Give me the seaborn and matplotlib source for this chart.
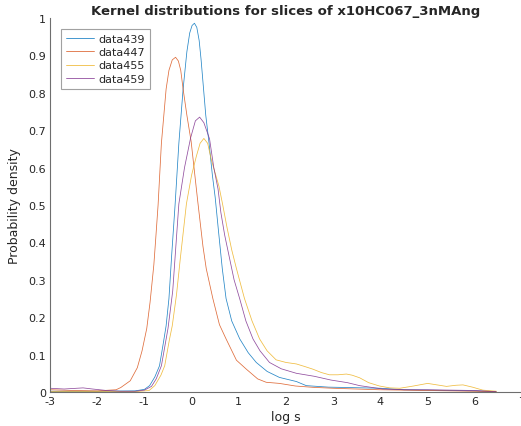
import numpy as np
import pandas as pd
import matplotlib
matplotlib.use("Agg")
import matplotlib.pyplot as plt
import seaborn as sns

# Kernel density estimates of log s for each slice
series_names = ["data439", "data447", "data455", "data459"]
series_colors = ["#0072BD", "#D95319", "#EDB120", "#7E2F8E"]

x_439 = [-3.0, -2.0, -1.2, -1.0, -0.89, -0.78, -0.68, -0.6, -0.54, -0.48, -0.42, -0.35,
         -0.27, -0.18, -0.1, -0.04, 0.01, 0.06, 0.11, 0.16, 0.2, 0.24, 0.3, 0.37, 0.44,
         0.5, 0.57, 0.65, 0.73, 0.85, 1.02, 1.2, 1.37, 1.6, 1.86, 2.22, 2.43, 2.9, 3.3,
         4.0, 4.5, 5.0, 5.5, 6.0, 6.45]
y_439 = [0.002, 0.002, 0.003, 0.007, 0.017, 0.04, 0.07, 0.13, 0.177, 0.25, 0.37, 0.50,
         0.665, 0.81, 0.91, 0.96, 0.98, 0.986, 0.975, 0.94, 0.89, 0.83, 0.74, 0.665, 0.58,
         0.52, 0.43, 0.33, 0.25, 0.19, 0.142, 0.105, 0.079, 0.055, 0.039, 0.028, 0.017,
         0.013, 0.012, 0.01, 0.006, 0.005, 0.004, 0.003, 0.001]

x_447 = [-3.0, -2.5, -2.0, -1.6, -1.5, -1.3, -1.15, -1.05, -0.95, -0.88, -0.8, -0.76,
         -0.71, -0.64, -0.54, -0.48, -0.41, -0.34, -0.28, -0.23, -0.18, -0.1, -0.01, 0.06,
         0.13, 0.24, 0.31, 0.45, 0.59, 0.73, 0.95, 1.16, 1.4, 1.58, 1.86, 2.2, 2.57, 3.0,
         3.98, 5.0, 6.0, 6.45]
y_447 = [0.006, 0.004, 0.003, 0.006, 0.012, 0.03, 0.065, 0.11, 0.17, 0.24, 0.34, 0.41,
         0.50, 0.665, 0.81, 0.86, 0.888, 0.895, 0.885, 0.86, 0.81, 0.74, 0.67, 0.59,
         0.51, 0.39, 0.33, 0.25, 0.18, 0.142, 0.085, 0.061, 0.035, 0.026, 0.023, 0.016,
         0.0125, 0.01, 0.006, 0.004, 0.002, 0.001]

x_455 = [-3.0, -1.2, -0.9, -0.78, -0.65, -0.57, -0.47, -0.41, -0.32, -0.24, -0.11, 0.0,
         0.1, 0.18, 0.26, 0.34, 0.42, 0.5, 0.58, 0.66, 0.75, 0.85, 0.95, 1.12, 1.28, 1.44,
         1.6, 1.79, 2.0, 2.22, 2.4, 2.57, 2.75, 2.92, 3.1, 3.28, 3.4, 3.56, 3.75, 3.98,
         4.2, 4.41, 4.7, 5.0, 5.2, 5.4, 5.6, 5.75, 5.95, 6.17, 6.46]
y_455 = [0.001, 0.001, 0.004, 0.017, 0.045, 0.07, 0.14, 0.177, 0.26, 0.356, 0.503, 0.58,
         0.63, 0.665, 0.678, 0.665, 0.62, 0.585, 0.55, 0.5, 0.44, 0.38, 0.33, 0.25, 0.19,
         0.142, 0.11, 0.086, 0.079, 0.075, 0.068, 0.061, 0.052, 0.046, 0.046, 0.048, 0.045,
         0.038, 0.025, 0.016, 0.011, 0.01, 0.016, 0.023, 0.019, 0.015, 0.018, 0.019, 0.013,
         0.005, 0.002]

x_459 = [-3.0, -2.7, -2.3, -2.1, -1.8, -1.5, -1.2, -1.0, -0.85, -0.75, -0.64, -0.5, -0.4,
         -0.35, -0.27, -0.15, -0.02, 0.08, 0.17, 0.26, 0.38, 0.47, 0.56, 0.62, 0.7, 0.8,
         0.9, 1.02, 1.15, 1.3, 1.45, 1.65, 1.9, 2.22, 2.6, 2.95, 3.3, 3.56, 4.05, 4.5, 5.0,
         5.5, 6.0, 6.45]
y_459 = [0.01, 0.008, 0.011, 0.008, 0.004, 0.002, 0.002, 0.005, 0.015, 0.035, 0.07, 0.17,
         0.27, 0.36, 0.503, 0.6, 0.68, 0.725, 0.735, 0.72, 0.677, 0.6, 0.543, 0.48, 0.42,
         0.36, 0.3, 0.249, 0.19, 0.142, 0.11, 0.079, 0.062, 0.05, 0.042, 0.032, 0.025,
         0.017, 0.008, 0.006, 0.006, 0.005, 0.004, 0.001]

x_ticks = [-3, -2, -1, 0, 1, 2, 3, 4, 5, 6, 7]
y_ticks = [0, 0.1, 0.2, 0.3, 0.4, 0.5, 0.6, 0.7, 0.8, 0.9, 1]
y_tick_labels = ["0", "0.1", "0.2", "0.3", "0.4", "0.5", "0.6", "0.7", "0.8", "0.9", "1"]

frames = []
for name, xs, ys in zip(series_names,
                        [x_439, x_447, x_455, x_459],
                        [y_439, y_447, y_455, y_459]):
    frames.append(pd.DataFrame({"log s": xs, "density": ys, "slice": name}))
df = pd.concat(frames, ignore_index=True)

sns.set_style("white")
plt.rcParams["font.family"] = ["DejaVu Sans"]

fig = plt.figure(figsize=(5.21, 4.27), dpi=100)
ax = fig.add_axes([50 / 521, 34 / 427, 472 / 521, 374 / 427])

sns.lineplot(data=df, x="log s", y="density", hue="slice", hue_order=series_names,
             palette=series_colors, sort=False, estimator=None, linewidth=0.55,
             alpha=0.85, ax=ax)

axis_color = "#6e6e6e"
ax.set_xlim(-3, 7)
ax.set_ylim(0, 1)
ax.set_xticks(x_ticks)
ax.set_xticklabels([str(t) for t in x_ticks])
ax.set_yticks(y_ticks)
ax.set_yticklabels(y_tick_labels)
ax.tick_params(direction="in", length=4, width=0.7, color=axis_color,
               labelsize=8, labelcolor="#262626", pad=3)
for side in ["top", "right"]:
    ax.spines[side].set_visible(False)
for side in ["left", "bottom"]:
    ax.spines[side].set_color(axis_color)
    ax.spines[side].set_linewidth(0.8)

ax.set_xlabel("log s", fontsize=9, color="#262626", labelpad=3)
ax.set_ylabel("Probability density", fontsize=9, color="#262626", labelpad=5)
ax.set_title("Kernel distributions for slices of x10HC067_3nMAng", fontsize=9.5,
             fontweight="bold", pad=3)

leg = ax.legend(loc="upper left", bbox_to_anchor=(0.023, 0.97), fontsize=8,
                frameon=True, fancybox=False, handlelength=2.5, handletextpad=0.4,
                borderpad=0.45, labelspacing=0.28, borderaxespad=0)
leg.get_frame().set_edgecolor("#8a8a8a")
leg.get_frame().set_linewidth(0.8)
for line in leg.get_lines():
    line.set_linewidth(0.6)

fig.savefig("out.png", dpi=100)
